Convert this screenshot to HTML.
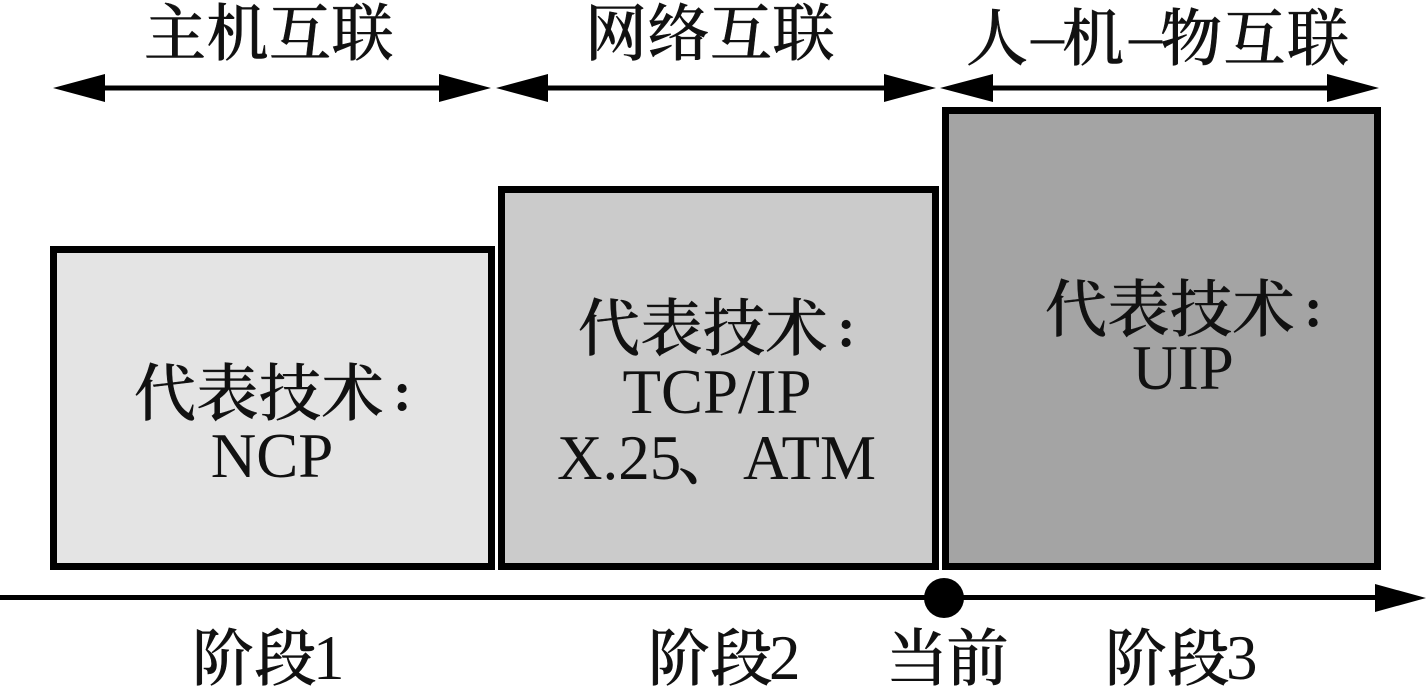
<!DOCTYPE html>
<html lang="zh"><head><meta charset="utf-8"><style>
html,body{margin:0;padding:0;background:#fff;width:1426px;height:697px;overflow:hidden}
svg{display:block}
text{font-family:"Liberation Serif","Noto Serif CJK SC",serif;font-size:63px;fill:#111}
.c{font-family:"Noto Serif CJK SC",serif;font-size:62px;font-weight:500;stroke:#111;stroke-width:.5;letter-spacing:.5px}
.k{font-size:56px;font-weight:bold}
.d{font-size:66px}
</style></head><body>
<svg width="1426" height="697" viewBox="0 0 1426 697" xmlns="http://www.w3.org/2000/svg">
<rect x="53.5" y="249.5" width="438" height="317" fill="#e4e4e4" stroke="#000" stroke-width="7"/>
<rect x="501.5" y="189.5" width="434" height="377" fill="#cbcbcb" stroke="#000" stroke-width="7"/>
<rect x="945.5" y="110.5" width="432" height="456" fill="#a4a4a4" stroke="#000" stroke-width="7"/>
<g fill="#000">
<rect x="100" y="85.5" width="345" height="5"/>
<path d="M53 88L105 74V102Z M491 88L439 74V102Z"/>
<rect x="543" y="85.5" width="346" height="5"/>
<path d="M496 88L548 74V102Z M936 88L884 74V102Z"/>
<rect x="988" y="85.5" width="344" height="5"/>
<path d="M940 88L993 74V102Z M1379 88L1327 74V102Z"/>
<rect x="0" y="595" width="1380" height="5"/>
<path d="M1426 598L1375 584V612Z"/>
<circle cx="944" cy="598" r="20"/>
</g>
<text class="c" x="144" y="55">主机互联</text>
<text class="c" x="585" y="55">网络互联</text>
<text class="c" x="966" y="60">人</text>
<text class="d" x="1031" y="57">–</text>
<text class="c" x="1062" y="60">机</text>
<text class="d" x="1129" y="57">–</text>
<text class="c" x="1160" y="60" style="letter-spacing:1.5px">物互联</text>
<text class="c" x="134" y="415">代表技术</text>
<text class="k" x="393" y="410">:</text>
<text x="272" y="477" text-anchor="middle">NCP</text>
<text class="c" x="578" y="350">代表技术</text>
<text class="k" x="837" y="346">:</text>
<text x="717" y="413" text-anchor="middle">TCP/IP</text>
<text x="557" y="479">X.25</text>
<text class="c" x="678" y="479">、</text>
<text x="743" y="479">ATM</text>
<text class="c" x="1045" y="331">代表技术</text>
<text class="k" x="1304" y="326">:</text>
<text x="1183" y="389" text-anchor="middle">UIP</text>
<text class="c" x="192" y="680">阶段</text>
<text x="313" y="679">1</text>
<text class="c" x="648" y="680">阶段</text>
<text x="769" y="679">2</text>
<text class="c" x="886" y="680" style="letter-spacing:-1.5px">当前</text>
<text class="c" x="1105" y="680">阶段</text>
<text x="1226" y="679">3</text>
</svg>
</body></html>
